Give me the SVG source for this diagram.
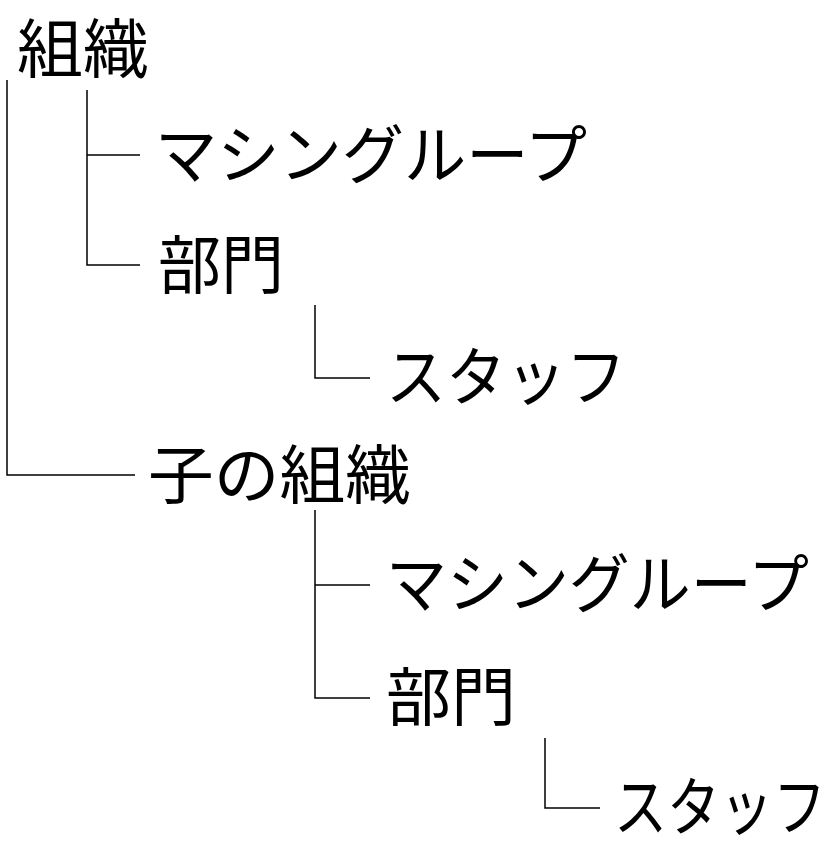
<svg xmlns="http://www.w3.org/2000/svg" width="831" height="850" viewBox="0 0 831 850">
<style>
text{font-family:"Noto Sans CJK JP","Liberation Sans",sans-serif;font-size:64px;fill:#000}
.c path{fill:none;stroke:#000;stroke-width:1.5}
</style>
<rect width="831" height="850" fill="#fff"/>
<g class="c" id="connectors">
<path d="M7 80V475H135"/>
<path d="M87 90V265H140M87 155H140"/>
<path d="M315 305V378H370"/>
<path d="M315 510V698H370M315 585H370"/>
<path d="M545 738V808H600"/>
</g>
<g id="n1"><text x="17" y="72" textLength="132" lengthAdjust="spacingAndGlyphs">組織</text></g>
<g id="n2"><text x="155" y="178" textLength="432" lengthAdjust="spacingAndGlyphs">マシングループ</text></g>
<g id="n3"><text x="158" y="288" textLength="126" lengthAdjust="spacingAndGlyphs">部門</text></g>
<g id="n4"><text x="386" y="400" textLength="240" lengthAdjust="spacingAndGlyphs">スタッフ</text></g>
<g id="n5"><text x="148" y="498" textLength="263" lengthAdjust="spacingAndGlyphs">子の組織</text></g>
<g id="n6"><text x="386" y="607" textLength="423" lengthAdjust="spacingAndGlyphs">マシングループ</text></g>
<g id="n7"><text x="386" y="720" textLength="130" lengthAdjust="spacingAndGlyphs">部門</text></g>
<g id="n8"><text x="614" y="830" textLength="212" lengthAdjust="spacingAndGlyphs">スタッフ</text></g>
</svg>
